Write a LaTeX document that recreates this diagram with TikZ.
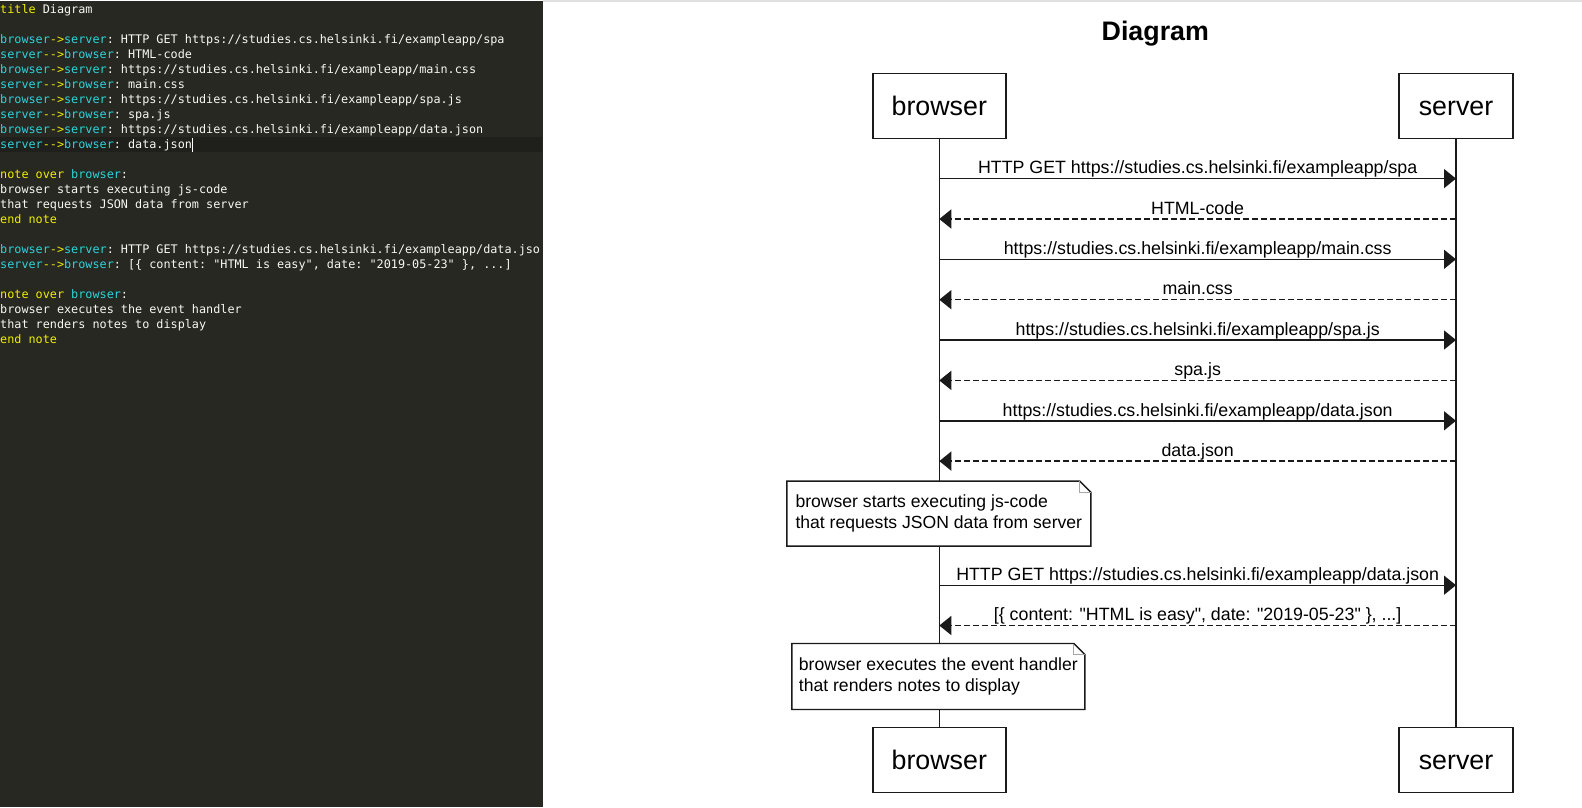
\documentclass[tikz,border=0pt]{standalone}
\usepackage{fontspec}
\setmainfont{Liberation Sans}
\setmonofont{DejaVu Sans Mono}
\usetikzlibrary{arrows.meta}
\definecolor{edbg}{HTML}{272822}
\definecolor{edline}{HTML}{1F201B}
\definecolor{kwyellow}{HTML}{EEEE00}
\definecolor{kwcyan}{HTML}{2ED2DA}
\definecolor{edtext}{HTML}{F8F8F2}
\definecolor{inkc}{HTML}{1A1A1A}
\definecolor{topline}{HTML}{E0E0E0}
\newcommand\kwy[1]{\textcolor{kwyellow}{#1}}
\newcommand\kwc[1]{\textcolor{kwcyan}{#1}}
\newcommand\straightq{\XeTeXglyph\XeTeXcharglyph"22\relax}
\begin{document}
\begin{tikzpicture}[x=1pt,y=-1pt,
  actor/.style={draw=inkc, line width=1.4pt, fill=white, inner sep=0pt, text height=19.5pt, text depth=0pt, font=\fontsize{26.8}{31}\selectfont},
  life/.style={draw=inkc, line width=1.4pt},
  msg/.style={draw=inkc, line width=1.4pt, -{Triangle[length=12pt,width=19pt]}},
  reply/.style={msg, line width=1.5pt, dash pattern=on 6pt off 3pt},
  lbl/.style={anchor=south, inner sep=0pt, text depth=4pt, text height=13pt, font=\fontsize{17.8}{21}\selectfont},
  notebox/.style={fill=white, inner sep=0pt, align=left, font=\fontsize{17.6}{21.2}\selectfont},
  noteline/.style={draw=inkc, line width=1.4pt},
  foldline/.style={draw=gray!70, line width=1pt},
  code/.style={anchor=base west, inner sep=0pt, text=edtext, font=\ttfamily\fontsize{11.8}{14}\selectfont},
]
\useasboundingbox (0,0) rectangle (1582,807);
\fill[white] (0,0) rectangle (1582,807);
% editor panel
\fill[topline] (543,0) rectangle (1582,1.5);
\fill[edbg] (0,1) rectangle (543,807);
\fill[edline] (0,136.5) rectangle (542,151.5);
\begin{scope}
\clip (0,1) rectangle (540,807);
\node[code] (c0) at (0,13) {\kwy{title} Diagram};
\node[code] (c2) at (0,43) {\kwc{browser}\kwy{->}\kwc{server}: HTTP GET https://studies.cs.helsinki.fi/exampleapp/spa};
\node[code] (c3) at (0,58) {\kwc{server}\kwy{-->}\kwc{browser}: HTML-code};
\node[code] (c4) at (0,73) {\kwc{browser}\kwy{->}\kwc{server}: https://studies.cs.helsinki.fi/exampleapp/main.css};
\node[code] (c5) at (0,88) {\kwc{server}\kwy{-->}\kwc{browser}: main.css};
\node[code] (c6) at (0,103) {\kwc{browser}\kwy{->}\kwc{server}: https://studies.cs.helsinki.fi/exampleapp/spa.js};
\node[code] (c7) at (0,118) {\kwc{server}\kwy{-->}\kwc{browser}: spa.js};
\node[code] (c8) at (0,133) {\kwc{browser}\kwy{->}\kwc{server}: https://studies.cs.helsinki.fi/exampleapp/data.json};
\node[code] (c9) at (0,148) {\kwc{server}\kwy{-->}\kwc{browser}: data.json};
\node[code] (c11) at (0,178) {\kwy{note over} \kwc{browser}:};
\node[code] (c12) at (0,193) {browser starts executing js-code};
\node[code] (c13) at (0,208) {that requests JSON data from server};
\node[code] (c14) at (0,223) {\kwy{end note}};
\node[code] (c16) at (0,253) {\kwc{browser}\kwy{->}\kwc{server}: HTTP GET https://studies.cs.helsinki.fi/exampleapp/data.json};
\node[code] (c17) at (0,268) {\kwc{server}\kwy{-->}\kwc{browser}: [\{ content: "HTML is easy", date: "2019-05-23" \}, ...]};
\node[code] (c19) at (0,298) {\kwy{note over} \kwc{browser}:};
\node[code] (c20) at (0,313) {browser executes the event handler};
\node[code] (c21) at (0,328) {that renders notes to display};
\node[code] (c22) at (0,343) {\kwy{end note}};
\end{scope}
\draw[white, line width=1pt] (192.5,137.5) -- (192.5,151.5);
% diagram
\node[font=\bfseries\fontsize{26.8}{31}\selectfont] (title) at (1155.3,33.8) {Diagram};
\node[actor, minimum width=133pt, minimum height=64.5pt] (bt) at (939.3,106) {browser};
\node[actor, minimum width=114pt, minimum height=64.5pt] (st) at (1456,106) {server};
\node[actor, minimum width=133pt, minimum height=65pt] (bb) at (939.3,760.2) {browser};
\node[actor, minimum width=114pt, minimum height=65pt] (sb) at (1456,760.2) {server};
\draw[life] (bt.south) -- (bb.north);
\draw[life] (st.south) -- (sb.north);
\foreach \i/\yy in {1/178.6,2/219.0,3/259.3,4/299.7,5/340.0,6/380.4,7/420.8,8/461.1,9/585.2,10/625.5}{
  \coordinate (b\i) at (939.3,\yy);
  \coordinate (s\i) at (1456,\yy);
}
\draw[msg] (b1) -- node[lbl] (m1) {HTTP GET https://studies.cs.helsinki.fi/exampleapp/spa} (s1);
\draw[reply] (s2) -- node[lbl] (m2) {HTML-code} (b2);
\draw[msg] (b3) -- node[lbl] (m3) {https://studies.cs.helsinki.fi/exampleapp/main.css} (s3);
\draw[reply] (s4) -- node[lbl] (m4) {main.css} (b4);
\draw[msg] (b5) -- node[lbl] (m5) {https://studies.cs.helsinki.fi/exampleapp/spa.js} (s5);
\draw[reply] (s6) -- node[lbl] (m6) {spa.js} (b6);
\draw[msg] (b7) -- node[lbl] (m7) {https://studies.cs.helsinki.fi/exampleapp/data.json} (s7);
\draw[reply] (s8) -- node[lbl] (m8) {data.json} (b8);
\draw[msg] (b9) -- node[lbl] (m9) {HTTP GET https://studies.cs.helsinki.fi/exampleapp/data.json} (s9);
\draw[reply] (s10) -- node[lbl] (m10) {[\{ content: \straightq HTML is easy\straightq, date: \straightq 2019-05-23\straightq\ \}, ...]} (b10);
% notes
\node[notebox, minimum width=303.6pt, minimum height=64.5pt] (n1) at (938.8,513.6) {browser starts executing js-code\\that requests JSON data from server};
\draw[noteline] (n1.south west) -- (n1.north west) -- ([xshift=-11pt]n1.north east) -- ([yshift=-11pt]n1.north east) -- (n1.south east) -- cycle;
\draw[foldline] ([xshift=-11pt]n1.north east) -- ([xshift=-11pt,yshift=-11pt]n1.north east) -- ([yshift=-11pt]n1.north east);
\node[notebox, minimum width=292.6pt, minimum height=65.6pt] (n2) at (938.3,676.5) {browser executes the event handler\\that renders notes to display};
\draw[noteline] (n2.south west) -- (n2.north west) -- ([xshift=-11pt]n2.north east) -- ([yshift=-11pt]n2.north east) -- (n2.south east) -- cycle;
\draw[foldline] ([xshift=-11pt]n2.north east) -- ([xshift=-11pt,yshift=-11pt]n2.north east) -- ([yshift=-11pt]n2.north east);
\end{tikzpicture}
\end{document}
